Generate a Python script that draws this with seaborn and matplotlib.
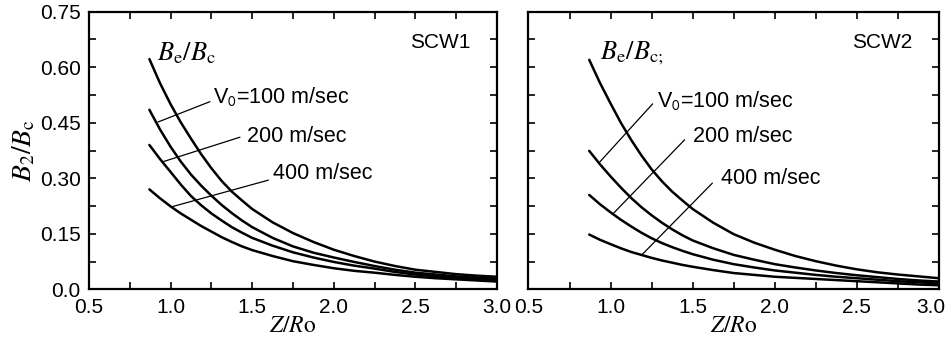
import numpy as np
import pandas as pd
import matplotlib
matplotlib.use("Agg")
import matplotlib.pyplot as plt
import matplotlib.transforms as mtransforms
import seaborn as sns

# ---- data ----
z = [0.87, 0.935, 1.0, 1.0625, 1.125, 1.1875, 1.25, 1.3125, 1.375, 1.4375, 1.5,
     1.625, 1.75, 1.875, 2.0, 2.125, 2.25, 2.375, 2.5, 2.625, 2.75, 2.875, 3.0]

# SCW1
scw1_be_bc = [0.622, 0.557, 0.500, 0.451, 0.407, 0.365, 0.327, 0.293, 0.264, 0.240, 0.217,
              0.181, 0.152, 0.128, 0.107, 0.090, 0.075, 0.063, 0.053, 0.047, 0.041, 0.037, 0.034]
scw1_v100 = [0.485, 0.432, 0.385, 0.345, 0.310, 0.280, 0.253, 0.228, 0.206, 0.186, 0.168,
             0.139, 0.116, 0.099, 0.086, 0.074, 0.063, 0.053, 0.045, 0.040, 0.035, 0.032, 0.029]
scw1_v200 = [0.390, 0.352, 0.317, 0.283, 0.252, 0.227, 0.205, 0.186, 0.168, 0.153, 0.139,
             0.118, 0.100, 0.086, 0.074, 0.064, 0.056, 0.047, 0.040, 0.035, 0.031, 0.028, 0.025]
scw1_v400 = [0.270, 0.246, 0.224, 0.205, 0.188, 0.171, 0.156, 0.141, 0.128, 0.116, 0.106,
             0.090, 0.076, 0.066, 0.057, 0.050, 0.045, 0.039, 0.034, 0.030, 0.027, 0.024, 0.021]

# SCW2
scw2_be_bc = [0.620, 0.558, 0.502, 0.450, 0.404, 0.362, 0.324, 0.292, 0.264, 0.240, 0.217,
              0.180, 0.149, 0.126, 0.107, 0.090, 0.076, 0.064, 0.054, 0.046, 0.040, 0.035, 0.030]
scw2_v100 = [0.374, 0.338, 0.305, 0.275, 0.247, 0.222, 0.200, 0.180, 0.162, 0.146, 0.132,
             0.111, 0.093, 0.080, 0.068, 0.059, 0.051, 0.044, 0.038, 0.033, 0.028, 0.024, 0.021]
scw2_v200 = [0.255, 0.230, 0.208, 0.188, 0.170, 0.153, 0.138, 0.125, 0.114, 0.104, 0.095,
             0.080, 0.068, 0.059, 0.051, 0.045, 0.039, 0.034, 0.030, 0.026, 0.022, 0.019, 0.016]
scw2_v400 = [0.148, 0.134, 0.122, 0.111, 0.101, 0.093, 0.085, 0.078, 0.072, 0.066, 0.061,
             0.052, 0.044, 0.039, 0.034, 0.031, 0.028, 0.025, 0.022, 0.019, 0.016, 0.013, 0.011]

panel_names = ["SCW1", "SCW2"]
series_labels = [r"V$_{\mathsf{0}}$=100 m/sec", "200 m/sec", "400 m/sec"]
be_labels = [r"$B_{\rm e}/B_{\rm c}$", r"$B_{\rm e}/B_{\rm c;}$"]

# leader lines (start on curve -> end at label) and label anchors, data coords
leaders = {
    "SCW1": [((0.923, 0.452), (1.241, 0.507), (1.262, 0.522)),
             ((0.955, 0.345), (1.425, 0.411), (1.468, 0.414)),
             ((1.007, 0.223), (1.599, 0.295), (1.627, 0.314))],
    "SCW2": [((0.934, 0.344), (1.256, 0.501), (1.280, 0.511)),
             ((1.019, 0.206), (1.451, 0.404), (1.500, 0.412)),
             ((1.190, 0.093), (1.620, 0.287), (1.675, 0.300))],
}

xticks_major = [0.5, 1.0, 1.5, 2.0, 2.5, 3.0]
yticks_major = [0.0, 0.15, 0.30, 0.45, 0.60, 0.75]
ytick_labels = ["0.0", "0.15", "0.30", "0.45", "0.60", "0.75"]

# ---- style ----
sns.set_theme(style="ticks")
plt.rcParams["font.family"] = ["Liberation Sans", "DejaVu Sans"]
plt.rcParams["mathtext.fontset"] = "stix"
for k in ["text.color", "axes.labelcolor", "xtick.color", "ytick.color", "axes.edgecolor"]:
    plt.rcParams[k] = "black"

fig = plt.figure(figsize=(9.51, 3.40), dpi=100)
ax1 = fig.add_axes([0.0936, 0.149, 0.429, 0.8166])
ax2 = fig.add_axes([0.5557, 0.149, 0.4317, 0.8166])

data = {
    "SCW1": [scw1_be_bc, scw1_v100, scw1_v200, scw1_v400],
    "SCW2": [scw2_be_bc, scw2_v100, scw2_v200, scw2_v400],
}

for i, (ax, name) in enumerate(zip([ax1, ax2], panel_names)):
    for curve in data[name]:
        df = pd.DataFrame({"z": z, "b": curve})
        sns.lineplot(data=df, x="z", y="b", ax=ax, color="black", lw=1.8,
                     estimator=None, sort=False, legend=False)
    for (p0, p1, lab), text in zip(leaders[name], series_labels):
        ax.plot([p0[0], p1[0]], [p0[1], p1[1]], color="black", lw=0.9)
        ax.text(lab[0], lab[1], text, fontsize=15.5, ha="left", va="center")
    bx = 0.917 if i == 0 else 0.935
    ax.text(bx, 0.639, be_labels[i], fontsize=19, ha="left", va="center")
    ax.text(2.835, 0.666, name, fontsize=15, ha="right", va="center")

    ax.set_xlim(0.5, 3.0)
    ax.set_ylim(0.0, 0.75)
    ax.set_xticks(xticks_major)
    ax.set_xticklabels([f"{v:.1f}" for v in xticks_major])
    ax.set_xticks(np.arange(0.5, 3.01, 0.25), minor=True)
    ax.set_yticks(yticks_major)
    ax.set_yticks(np.arange(0.0, 0.751, 0.075), minor=True)
    if i == 0:
        ax.set_yticklabels(ytick_labels)
        ax.set_ylabel(r"$B_2/B_{\rm c}$", fontsize=20, labelpad=2)
    else:
        ax.set_yticklabels([])
        ax.set_ylabel("")
    ax.set_xlabel(r"$Z/R$" + r"$\mathrm{o}$", fontsize=17, labelpad=-1)
    ax.tick_params(which="both", direction="in", top=True, right=True,
                   length=5, width=1.2, labelsize=15, pad=6, colors="black")
    for sp in ax.spines.values():
        sp.set_visible(True)
        sp.set_linewidth(1.6)
        sp.set_color("black")

# keep the last "3.0" of the right panel inside the canvas
last = ax2.xaxis.get_major_ticks()[-1].label1
last.set_transform(last.get_transform() +
                   mtransforms.ScaledTranslation(-6 / 72, 0, fig.dpi_scale_trans))

fig.savefig("out.png", dpi=100)
